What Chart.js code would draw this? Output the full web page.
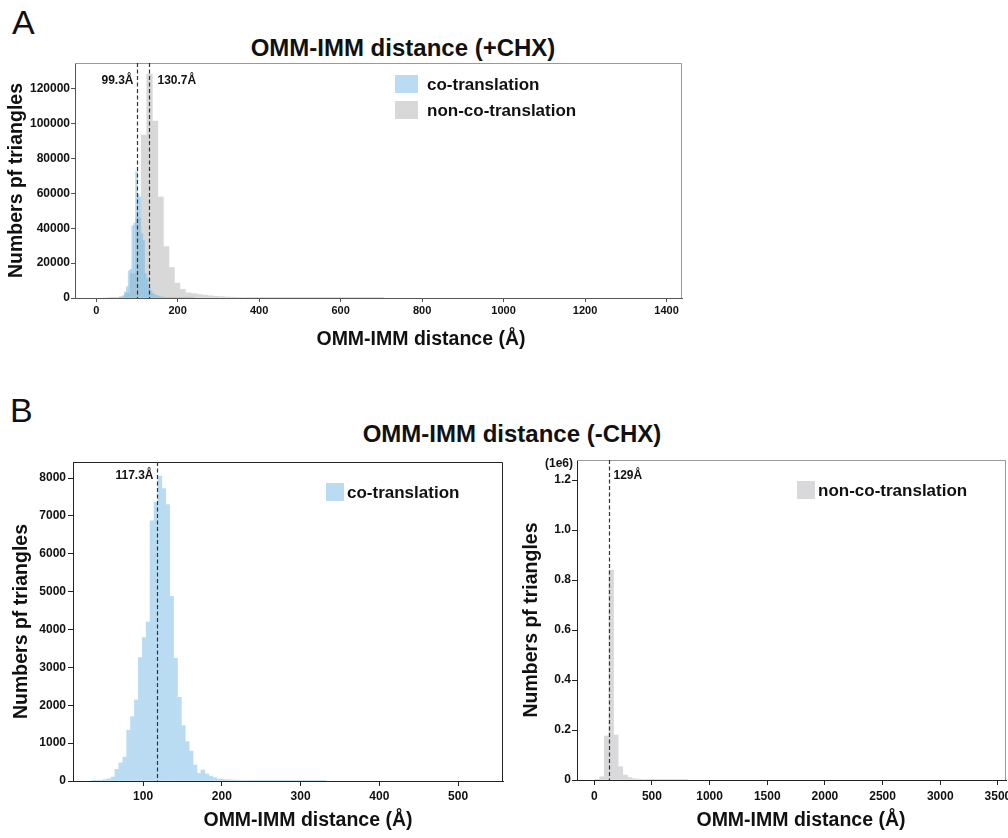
<!DOCTYPE html>
<html>
<head>
<meta charset="utf-8">
<title>OMM-IMM distance histograms</title>
<script src="https://cdn.jsdelivr.net/npm/chart.js@4.4.1/dist/chart.umd.min.js"></script>
<style>
  body { margin: 0; background: #fff; }
  #fig { position: relative; width: 1008px; height: 838px; overflow: hidden;
         font-family: "Liberation Sans", Arial, sans-serif; color: #111; }
  #fig canvas { position: absolute; }
  .t { position: absolute; line-height: 1; white-space: nowrap; font-weight: bold; }
  .letter { position: absolute; line-height: 1; font-size: 34px; }
  .title { font-size: 24px; transform: translateX(-50%); }
  .xlab { font-size: 19.5px; transform: translateX(-50%); }
  .leg { font-size: 17px; }
  .patch { position: absolute; }
</style>
</head>
<body>
<div id="fig">
  <div class="letter" style="left:12px;top:5px">A</div>
  <div class="t title" style="left:403px;top:36px">OMM-IMM distance (+CHX)</div>
  <canvas id="chartA" width="700" height="300" style="left:0;top:55px"></canvas>
  <div class="patch" style="left:395px;top:75px;width:23px;height:18px;background:#b9dcf2"></div>
  <div class="t leg" style="left:427px;top:76px">co-translation</div>
  <div class="patch" style="left:395px;top:101px;width:23px;height:18px;background:#d8d8d9"></div>
  <div class="t leg" style="left:427px;top:102px">non-co-translation</div>
  <div class="t xlab" style="left:421px;top:329px">OMM-IMM distance (Å)</div>

  <div class="letter" style="left:10px;top:393px">B</div>
  <div class="t title" style="left:512px;top:422px">OMM-IMM distance (-CHX)</div>
  <canvas id="chartB1" width="520" height="388" style="left:0;top:450px"></canvas>
  <canvas id="chartB2" width="488" height="388" style="left:520px;top:450px"></canvas>
  <div class="patch" style="left:326px;top:483px;width:18px;height:18px;background:#badcf3"></div>
  <div class="t leg" style="left:347px;top:484px">co-translation</div>
  <div class="patch" style="left:797px;top:481px;width:18px;height:18px;background:#d9d9db"></div>
  <div class="t leg" style="left:818px;top:482px">non-co-translation</div>
  <div class="t xlab" style="left:308px;top:810px">OMM-IMM distance (Å)</div>
  <div class="t xlab" style="left:801px;top:810px">OMM-IMM distance (Å)</div>
</div>

<script>
// ---- data: histogram bins (start, width) and counts ----

// A (+CHX), co-translation
const binStartA_co = 56;
const binWidthA_co = 4.5;
const countsA_co = [200, 600, 1500, 3500, 6500, 15500, 16500, 41500, 43000, 72500,
  59500, 58000, 37000, 33000, 14000, 11000, 5500, 4000, 2600, 2000,
  1500, 1100, 850, 650, 500, 400, 320, 250, 200, 160,
  130, 100, 80, 60, 50, 40, 30, 25, 20, 15, 10];

// A (+CHX), non-co-translation
const binStartA_non = 16;
const binWidthA_non = 13.54;
const countsA_non = [0, 30, 150, 700, 2800, 14000, 46000, 93500, 128500, 101500,
  58000, 29500, 17500, 8500, 5000, 3000, 2500, 2000, 1600, 1300,
  1000, 800, 600, 450, 350, 270, 200, 160, 130, 100,
  80, 60, 50, 40, 30, 25, 20, 15, 12, 10,
  8, 6, 5, 4, 3, 3, 2, 2, 2, 1, 1];

// B (-CHX), co-translation
const binStartB_co = 34.5;
const binWidthB_co = 4.96;
const countsB_co = [5, 8, 20, 35, 60, 105, 310, 480, 630, 1340,
  1700, 2140, 3260, 3790, 4200, 6870, 7360, 8050, 7720, 7300,
  4880, 3240, 2210, 1460, 1040, 790, 420, 200, 290, 185,
  130, 90, 55, 45, 35, 30, 25, 20, 15, 12,
  10, 8, 6, 5, 5, 4, 4, 3, 3, 2,
  2, 2, 2, 1, 1, 1, 1, 1, 1, 1];

// B (-CHX), non-co-translation
const binStartB_non = 7;
const binWidthB_non = 40;
const countsB_non = [3000, 13000, 176000, 840000, 180000, 53000, 20000, 10000, 5000, 3000,
  2000, 1500, 1000, 800, 600, 450, 350, 250, 200, 150];

// reference lines (Å)
const markA = [99.3, 130.7];
const markB_co = 117.3;
const markB_non = 129;

// axis ranges and tick values
const xRangeA = [-52, 1438];
const xTicksA = [0, 200, 400, 600, 800, 1000, 1200, 1400];
const yMaxA = 134900;
const yTicksA = [0, 20000, 40000, 60000, 80000, 100000, 120000];

const xRangeB1 = [11, 557];
const xTicksB1 = [100, 200, 300, 400, 500];
const yMaxB1 = 8425;
const yTicksB1 = [0, 1000, 2000, 3000, 4000, 5000, 6000, 7000, 8000];

const xRangeB2 = [-150, 3570];
const xTicksB2 = [0, 500, 1000, 1500, 2000, 2500, 3000, 3500];
const yMaxB2 = 1280000;
const yTicksB2 = [0, 200000, 400000, 600000, 800000, 1000000, 1200000];

// ---- helpers ----
const FONT = '"Liberation Sans", Arial, sans-serif';

function toBins(start, width, counts) {
  return counts.map((c, i) => ({ x: start + width * (i + 0.5), y: c }));
}

// all histograms share one stack name so they overlap at full bin width
function histSet(start, width, counts, color) {
  return {
    data: toBins(start, width, counts),
    backgroundColor: color,
    borderWidth: 0,
    barThickness: 'flex',
    categoryPercentage: 1,
    barPercentage: 1,
    stack: 'hist',
  };
}

// frame + dashed mean lines + their labels
function marks(cfg) {
  return {
    id: 'marks',
    afterDatasetsDraw(chart) {
      const { ctx, chartArea: { top, bottom, left, right }, scales: { x } } = chart;
      ctx.save();
      ctx.strokeStyle = cfg.frame;
      ctx.lineWidth = 1;
      ctx.beginPath();
      ctx.moveTo(left, top + 0.5);
      ctx.lineTo(right - 0.5, top + 0.5);
      ctx.lineTo(right - 0.5, bottom);
      ctx.stroke();

      ctx.font = 'bold 12px ' + FONT;
      ctx.fillStyle = '#111';
      ctx.textBaseline = 'middle';
      cfg.lines.forEach(l => {
        const px = Math.round(x.getPixelForValue(l.value)) + 0.5;
        ctx.strokeStyle = '#333';
        ctx.lineWidth = 1.2;
        ctx.setLineDash([4, 2.5]);
        ctx.beginPath();
        ctx.moveTo(px, top);
        ctx.lineTo(px, bottom);
        ctx.stroke();
        ctx.textAlign = l.side === 'left' ? 'right' : 'left';
        ctx.fillText(l.label, l.side === 'left' ? px - l.gap : px + l.gap, top + l.dy);
      });
      if (cfg.offsetText) {
        ctx.textAlign = 'right';
        ctx.fillText(cfg.offsetText, left - 4, top + 4);
      }
      ctx.restore();
    }
  };
}

const setTicks = values => scale => { scale.ticks = values.map(v => ({ value: v })); };

function histChart(id, datasets, c) {
  return new Chart(document.getElementById(id), {
    type: 'bar',
    data: { datasets },
    options: {
      responsive: false,
      animation: false,
      layout: { padding: { top: c.padTop, right: c.padRight, left: 0, bottom: 0 } },
      plugins: { legend: { display: false }, tooltip: { enabled: false } },
      scales: {
        x: {
          type: 'linear',
          min: c.xRange[0], max: c.xRange[1],
          offset: false,
          grid: { drawOnChartArea: false, offset: false, color: c.axisColor, tickLength: c.xTick },
          border: { color: c.axisColor, width: 1 },
          afterBuildTicks: setTicks(c.xTicks),
          ticks: { maxRotation: 0, autoSkip: false, padding: c.xPad, color: '#111',
                   font: { family: FONT, weight: 'bold', size: c.xFont },
                   callback: v => String(v) },
          afterFit: s => { s.height = c.xHeight; s.paddingLeft = 0; s.paddingRight = 0; },
        },
        y: {
          stacked: false,
          min: 0, max: c.yMax,
          grid: { drawOnChartArea: false, color: c.axisColor, tickLength: c.yTick },
          border: { color: c.axisColor, width: 1 },
          afterBuildTicks: setTicks(c.yTicks),
          ticks: { padding: c.yPad, color: '#111',
                   font: { family: FONT, weight: 'bold', size: 12 },
                   callback: c.yFmt || (v => String(v)) },
          title: { display: true, text: 'Numbers pf triangles', color: '#111',
                   font: { family: FONT, weight: 'bold', size: 19.5 },
                   padding: { top: c.yTitlePad, bottom: 0 } },
          afterFit: s => { s.width = c.yWidth; s.paddingTop = 0; s.paddingBottom = 0; },
        }
      }
    },
    plugins: [marks(c.marks)]
  });
}

// ---- A: +CHX, translucent blue drawn over the grey population ----
histChart('chartA', [
  histSet(binStartA_co, binWidthA_co, countsA_co, 'rgba(115,185,229,0.5)'),
  histSet(binStartA_non, binWidthA_non, countsA_non, '#d8d8d9'),
], {
  padTop: 8, padRight: 18, xHeight: 57, yWidth: 75,
  xRange: xRangeA, xTicks: xTicksA, xFont: 11, xPad: 2, xTick: 4,
  yMax: yMaxA, yTicks: yTicksA, yPad: 1, yTick: 4, yTitlePad: 5,
  axisColor: '#555',
  marks: {
    frame: '#999',
    lines: [
      { value: markA[0], label: markA[0] + 'Å', side: 'left', gap: 4, dy: 18 },
      { value: markA[1], label: markA[1] + 'Å', side: 'right', gap: 8, dy: 18 },
    ]
  }
});

// ---- B left: -CHX co-translation ----
histChart('chartB1', [
  histSet(binStartB_co, binWidthB_co, countsB_co, '#badcf3'),
], {
  padTop: 12, padRight: 17, xHeight: 57, yWidth: 73,
  xRange: xRangeB1, xTicks: xTicksB1, xFont: 12, xPad: 3, xTick: 5,
  yMax: yMaxB1, yTicks: yTicksB1, yPad: 2, yTick: 5, yTitlePad: 10,
  axisColor: '#222',
  marks: {
    frame: '#222',
    lines: [{ value: markB_co, label: markB_co + 'Å', side: 'left', gap: 4, dy: 14 }]
  }
});

// ---- B right: -CHX non-co-translation ----
histChart('chartB2', [
  histSet(binStartB_non, binWidthB_non, countsB_non, '#d9d9db'),
], {
  padTop: 10, padRight: 2, xHeight: 58, yWidth: 57,
  xRange: xRangeB2, xTicks: xTicksB2, xFont: 12, xPad: 4, xTick: 5,
  yMax: yMaxB2, yTicks: yTicksB2, yPad: 1, yTick: 5, yTitlePad: 0,
  yFmt: v => (v === 0 ? '0' : (v / 1e6).toFixed(1)),
  axisColor: '#222',
  marks: {
    frame: '#999',
    offsetText: '(1e6)',
    lines: [{ value: markB_non, label: markB_non + 'Å', side: 'right', gap: 4, dy: 16 }]
  }
});
</script>
</body>
</html>
